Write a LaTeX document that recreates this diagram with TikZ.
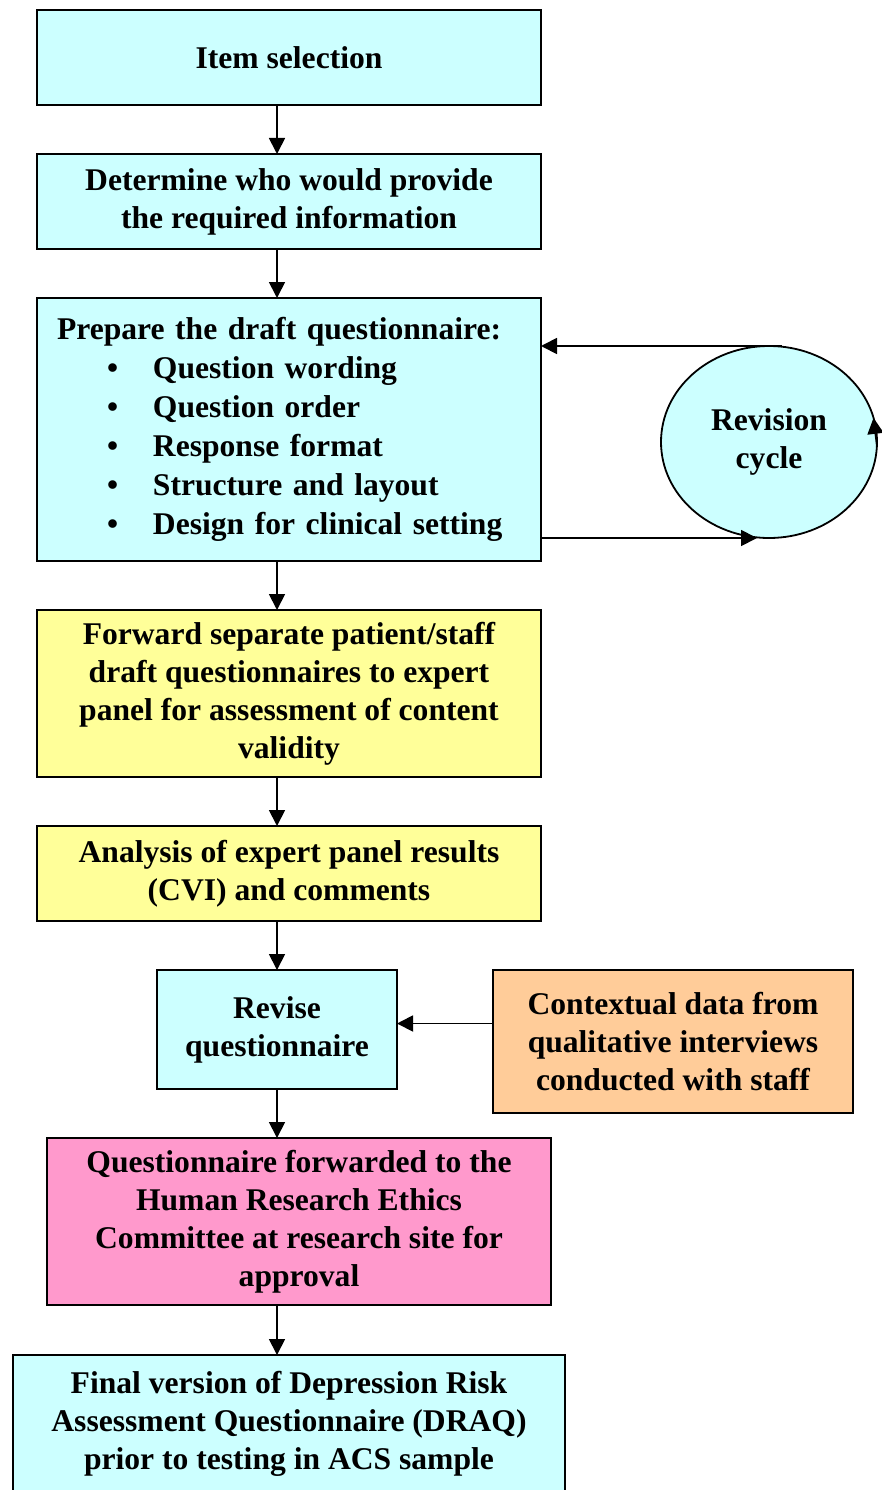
\documentclass[tikz,border=0pt]{standalone}
\usepackage{fontspec}
\setmainfont{Liberation Serif}
\usepackage{tikz}
\usetikzlibrary{arrows.meta,positioning,shapes.geometric}
\definecolor{boxcyan}{RGB}{204,255,255}
\definecolor{boxyellow}{RGB}{255,255,153}
\definecolor{boxorange}{RGB}{255,204,153}
\definecolor{boxpink}{RGB}{255,153,204}
\newcommand{\itembul}{\makebox[96pt][l]{\hspace*{50pt}\textbullet}}

\begin{document}
\begin{tikzpicture}[
  node distance=49pt,
  box/.style={rectangle,draw=black,line width=1.8pt,fill=boxcyan,outer sep=0pt,
    minimum width=504pt,minimum height=95pt,inner xsep=20pt,inner ysep=0pt,
    align=center,font=\fontsize{31.6}{38}\selectfont\bfseries},
  cyclebox/.style={ellipse,draw=black,line width=1.8pt,fill=boxcyan,outer sep=0pt,
    minimum width=216pt,minimum height=192pt,inner sep=0pt,
    align=center,font=\fontsize{31.6}{38}\selectfont\bfseries},
  arrow/.style={-{Triangle[length=16pt,width=16pt]},line width=1.8pt},
]
\useasboundingbox (0,0) rectangle (882pt,-1490pt);
\node[box] (item) at (289pt,-57.5pt) {Item selection};
\node[box,below=of item] (who) {Determine who would provide\\the required information};
\node[box,below=of who,minimum height=263pt,text width=464pt,align=left,
  font=\fontsize{31.6}{39}\selectfont\bfseries] (draft)
  {Prepare the draft questionnaire:\\
   \itembul Question wording\\
   \itembul Question order\\
   \itembul Response format\\
   \itembul Structure and layout\\
   \itembul Design for clinical setting};
\node[box,below=of draft,fill=boxyellow,minimum height=167pt] (panel)
  {Forward separate patient/staff\\draft questionnaires to expert\\panel for assessment of content\\validity};
\node[box,below=of panel,fill=boxyellow] (cvi) {Analysis of expert panel results\\(CVI) and comments};
\node[box,below=of cvi,xshift=-12pt,minimum width=240pt,minimum height=119pt] (revise) {Revise\\questionnaire};
\node[box,fill=boxorange,minimum width=360pt,minimum height=143pt,anchor=north west] (context)
  at ([xshift=96pt]revise.north east) {Contextual data from\\qualitative interviews\\conducted with staff};
\node[box,below=of revise,xshift=22pt,fill=boxpink,minimum height=167pt] (hrec)
  {Questionnaire forwarded to the\\Human Research Ethics\\Committee at research site for\\approval};
\node[box,below=50pt of hrec,xshift=-10pt,minimum width=552pt,minimum height=137pt] (final)
  {Final version of Depression Risk\\Assessment Questionnaire (DRAQ)\\prior to testing in ACS sample};
\node[cyclebox,right=120pt of draft.east,yshift=-12.5pt] (cycle) {Revision\\cycle};

\draw[arrow] (item.south -| revise) -- (who.north -| revise);
\draw[arrow] (who.south -| revise) -- (draft.north -| revise);
\draw[arrow] (draft.south -| revise) -- (panel.north -| revise);
\draw[arrow] (panel.south -| revise) -- (cvi.north -| revise);
\draw[arrow] (cvi.south -| revise) -- (revise.north);
\path ([yshift=6pt]revise.east) coordinate (ctxin);
\draw[arrow] (ctxin -| context.west) -- (ctxin);
\draw[arrow] (revise.south) -- (hrec.north -| revise);
\draw[arrow] (hrec.south -| revise) -- (final.north -| revise);

\draw[arrow] ([xshift=13pt]cycle.north) -- (cycle.north -| draft.east);
\draw[arrow] (cycle.south -| draft.east) -- ([xshift=-12pt]cycle.south);
\draw[arrow] (cycle.-2) -- (cycle.13);
\end{tikzpicture}
\end{document}
